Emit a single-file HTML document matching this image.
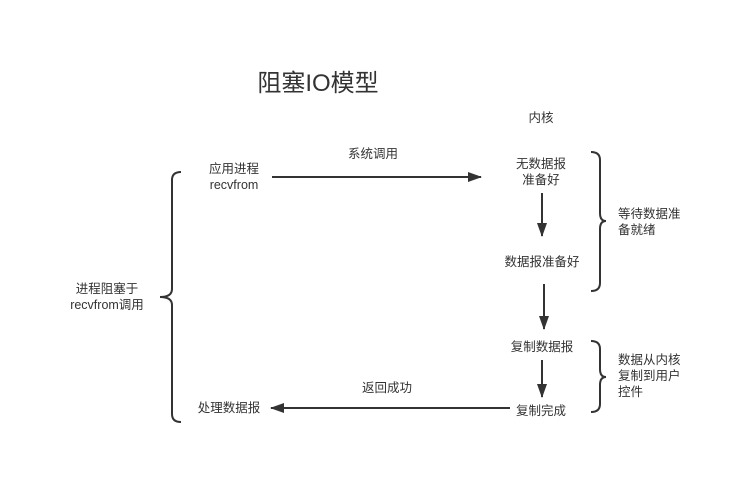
<!DOCTYPE html>
<html><head><meta charset="utf-8"><style>
body{margin:0;background:#fff;width:754px;height:491px;overflow:hidden}
svg text{font-family:"Liberation Sans","Noto Sans CJK SC",sans-serif;fill:#333;font-size:12.5px}
</style></head><body>
<svg width="754" height="491" viewBox="0 0 754 491">
<defs><marker id="a" markerWidth="14" markerHeight="10" refX="13" refY="5" orient="auto" markerUnits="userSpaceOnUse"><path d="M0,0 L14,5 L0,10 Z" fill="#333"/></marker></defs>
<text x="318" y="91" text-anchor="middle" style="font-size:24px">阻塞IO模型</text>
<text x="541" y="122" text-anchor="middle">内核</text>
<text x="234" y="173" text-anchor="middle">应用进程</text>
<text x="234" y="189" text-anchor="middle">recvfrom</text>
<text x="373" y="158" text-anchor="middle">系统调用</text>
<text x="541" y="168" text-anchor="middle">无数据报</text>
<text x="541" y="184" text-anchor="middle">准备好</text>
<text x="542" y="266" text-anchor="middle">数据报准备好</text>
<text x="542" y="351" text-anchor="middle">复制数据报</text>
<text x="541" y="415" text-anchor="middle">复制完成</text>
<text x="387" y="392" text-anchor="middle">返回成功</text>
<text x="229" y="412" text-anchor="middle">处理数据报</text>
<text x="107" y="293" text-anchor="middle">进程阻塞于</text>
<text x="107" y="309" text-anchor="middle">recvfrom调用</text>
<text x="618" y="218">等待数据准</text>
<text x="618" y="234">备就绪</text>
<text x="618" y="364">数据从内核</text>
<text x="618" y="380">复制到用户</text>
<text x="618" y="396">控件</text>
<g stroke="#333" stroke-width="2" fill="none">
<line x1="272" y1="177" x2="481" y2="177" marker-end="url(#a)"/>
<line x1="542" y1="193" x2="542" y2="236" marker-end="url(#a)"/>
<line x1="544" y1="284" x2="544" y2="329" marker-end="url(#a)"/>
<line x1="542" y1="360" x2="542" y2="397" marker-end="url(#a)"/>
<line x1="510" y1="408" x2="271" y2="408" marker-end="url(#a)"/>
<path d="M181,172 Q172,172 172,180 L172,289 Q172,297 160,297 Q172,297 172,305 L172,414 Q172,422 181,422"/>
<path d="M591,152 Q600,152 600,160 L600,213 Q600,221 606,221 Q600,221 600,229 L600,283 Q600,291 591,291"/>
<path d="M591,341 Q600,341 600,349 L600,369 Q600,377 606,377 Q600,377 600,385 L600,404 Q600,412 591,412"/>
</g>
</svg>
</body></html>
